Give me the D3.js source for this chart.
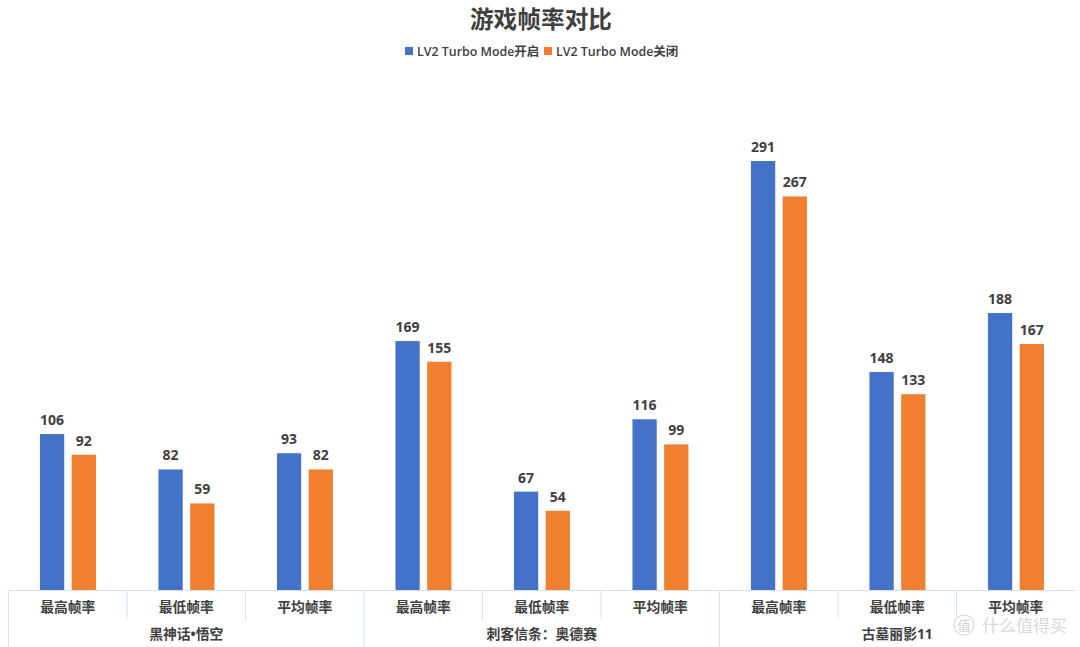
<!DOCTYPE html>
<html><head><meta charset="utf-8">
<script src="https://cdn.jsdelivr.net/npm/d3@7"></script>
<style>html,body{margin:0;padding:0;background:#fff}svg{display:block}text{font-family:"Open Sans","Noto Sans CJK SC",sans-serif}</style>
</head><body><svg id="c" width="1080" height="647"></svg>
<script>
const title = "游戏帧率对比";
const seriesNames = ["LV2 Turbo Mode开启", "LV2 Turbo Mode关闭"];
const seriesColors = ["#4472C8", "#F08030"];
const games = ["黑神话•悟空", "刺客信条：奥德赛", "古墓丽影11"];
const metrics = ["最高帧率", "最低帧率", "平均帧率"];
const valuesOn = [106, 82, 93, 169, 67, 116, 291, 148, 188];
const valuesOff = [92, 59, 82, 155, 54, 99, 267, 133, 167];

const svg = d3.select("#c");
const L = 8.5, R = 1075, base = 590.5;
const textCol = "#404040", axisCol = "#D6E2F3";
const cats = d3.range(9);
const x = d3.scaleBand().domain(cats).range([L, R]);
const y = d3.scaleLinear().domain([0, 291]).range([base, 161]);
const inner = d3.scaleBand().domain([0, 1]).range([-27.8, 28.2]).paddingInner(0.235).paddingOuter(0);

svg.append("text").attr("x", 541).attr("y", 28).attr("text-anchor", "middle")
  .attr("font-size", 23.7).attr("font-weight", 700).attr("fill", textCol).text(title);

// legend
const lg = [{sx: 405, tx: 417}, {sx: 544, tx: 556}];
lg.forEach((p, i) => {
  svg.append("rect").attr("x", p.sx).attr("y", 47).attr("width", 8).attr("height", 8).attr("fill", seriesColors[i]);
  svg.append("text").attr("x", p.tx).attr("y", 56).attr("font-size", 12.4).attr("font-weight", 600)
    .attr("fill", textCol).text(seriesNames[i]);
});

// bars
[valuesOn, valuesOff].forEach((vals, s) => {
  const g = svg.append("g");
  g.selectAll("rect").data(vals).join("rect")
    .attr("x", (d, i) => x(i) + x.bandwidth() / 2 + inner(s))
    .attr("y", d => y(d))
    .attr("width", inner.bandwidth())
    .attr("height", d => base - y(d))
    .attr("fill", seriesColors[s]);
  g.selectAll("text").data(vals).join("text")
    .attr("x", (d, i) => x(i) + x.bandwidth() / 2 + inner(s) + inner.bandwidth() / 2)
    .attr("y", d => y(d) - 9)
    .attr("text-anchor", "middle").attr("font-size", 14).attr("font-weight", 700)
    .attr("fill", textCol).text(d => d);
});

// axis lines
const ax = svg.append("g").attr("stroke", axisCol).attr("stroke-width", 1).attr("fill", "none");
ax.append("line").attr("x1", L).attr("x2", R).attr("y1", base).attr("y2", base);
cats.forEach(i => {
  const major = i % 3 === 0;
  ax.append("line").attr("x1", x(i)).attr("x2", x(i)).attr("y1", base).attr("y2", major ? 647 : 619);
});

// axis labels
svg.append("g").selectAll("text").data(cats).join("text")
  .attr("x", i => x(i) + x.bandwidth() / 2).attr("y", 612).attr("text-anchor", "middle")
  .attr("font-size", 13.8).attr("font-weight", 700).attr("fill", textCol)
  .text(i => metrics[i % 3]);
svg.append("g").selectAll("text").data(games).join("text")
  .attr("x", (d, i) => x(i * 3) + x.bandwidth() * 1.5).attr("y", 639).attr("text-anchor", "middle")
  .attr("font-size", 13.8).attr("font-weight", 700).attr("fill", textCol).text(d => d);

// watermark
svg.append("circle").attr("cx", 964).attr("cy", 625).attr("r", 10).attr("fill", "none").attr("stroke", "#D8D8D8").attr("stroke-width", 1.2);
svg.append("text").attr("x", 964).attr("y", 630).attr("text-anchor", "middle").attr("font-size", 13).attr("fill", "#D0D0D0").text("值");
svg.append("text").attr("x", 982).attr("y", 632).attr("font-size", 17).attr("fill", "#D8D8D8").text("什么值得买");
</script></body></html>
